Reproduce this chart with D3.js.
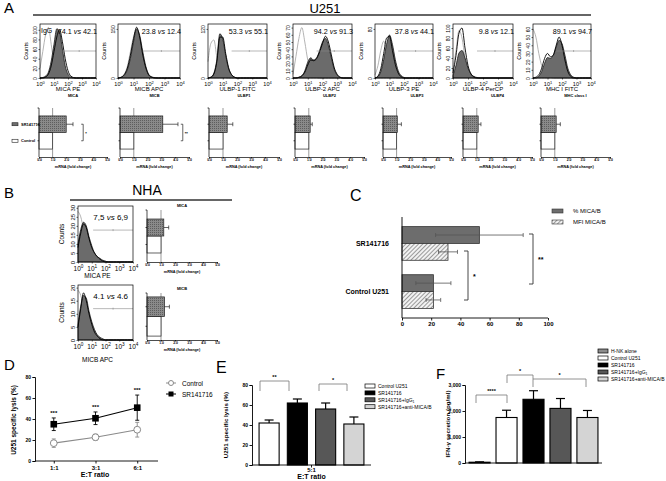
<!DOCTYPE html>
<html><head><meta charset="utf-8">
<script src="https://cdn.jsdelivr.net/npm/d3@7"></script>
<style>
body{margin:0;background:#fff;}
svg{display:block;}
</style></head><body>
<script>
// ================= DATA =================
const logBins = [0,0.2,0.4,0.6,0.8,1,1.2,1.4,1.6,1.8,2,2.2,2.4,2.6,2.8,3,3.2,3.4,3.6,3.8,4];
const histTicks = [0,1,2,3,4];

// Panel A flow cytometry histograms (counts at logBins)
const histMarkers = ["MICA PE","MICB APC","ULBP-1 FITC","ULBP-2 APC","ULBP-3 PE","ULBP-4 PerCP","MHC I FITC"];
const histPctTreat = ["74.1","23.8","53.3","94.2","37.8","9.8","89.1"];
const histPctCtrl  = ["42.1","12.4","55.1","91.3","44.1","12.1","94.7"];
const histYMax = [112,165,132,75,88,108,66];
const histYTicks = [[0,20,40,60,80,100],[0,150],[0,120],[0,10,20,30,40,50,60,70],[0,80],[0,20,40,60,80,100],[0,10,20,30,40,50,60]];
const histIso = [
  [20,55,90,105,70,30,10,3,0,0,0,0,0,0,0,0,0,0,0,0,0],
  [0,3,12,35,80,125,145,110,60,25,8,2,0,0,0,0,0,0,0,0,0],
  [40,85,93,50,15,4,1,0,0,0,0,0,0,0,0,0,0,0,0,0,0],
  [5,30,55,70,50,25,10,3,1,0,0,0,0,0,0,0,0,0,0,0,0],
  [5,20,45,60,45,20,6,1,0,0,0,0,0,0,0,0,0,0,0,0,0],
  [15,55,95,80,40,12,3,0,0,0,0,0,0,0,0,0,0,0,0,0,0],
  [60,50,30,15,8,4,2,0,0,0,0,0,0,0,0,0,0,0,0,0,0]
];
const histCtrl = [
  [0,0,2,8,25,55,85,100,75,40,15,4,1,0,0,0,0,0,0,0,0],
  [0,2,10,30,70,120,155,125,70,30,8,2,0,0,0,0,0,0,0,0,0],
  [0,2,10,40,100,100,60,25,8,2,0,0,0,0,0,0,0,0,0,0,0],
  [0,0,1,3,8,18,25,24,27,36,48,58,50,32,14,5,1,0,0,0,0],
  [0,3,15,40,65,68,45,22,8,2,0,0,0,0,0,0,0,0,0,0,0],
  [10,45,90,100,60,25,8,2,0,0,0,0,0,0,0,0,0,0,0,0,0],
  [0,1,4,12,24,30,26,28,40,50,40,22,8,2,0,0,0,0,0,0,0]
];
const histTreat = [
  [0,1,4,12,35,70,102,95,60,25,8,2,0,0,0,0,0,0,0,0,0],
  [0,2,8,25,60,110,150,130,80,35,10,3,1,0,0,0,0,0,0,0,0],
  [0,2,12,45,108,95,55,22,8,2,0,0,0,0,0,0,0,0,0,0,0],
  [0,0,1,3,10,22,28,25,28,38,50,55,45,28,12,4,1,0,0,0,0],
  [0,2,10,30,55,70,55,30,12,4,1,0,0,0,0,0,0,0,0,0,0],
  [5,25,50,55,40,20,8,3,1,0,0,0,0,0,0,0,0,0,0,0,0],
  [0,0,2,8,18,25,24,28,38,46,42,28,12,4,1,0,0,0,0,0,0]
];

// Panel A mRNA fold change
const barKeys = ["SR141716","Control"];
const mrnaGenes = ["MICA","MICB","ULBP1","ULBP2","ULBP3","ULBP4","MHC class I"];
const mrnaTreat = [2.0,3.1,1.3,1.1,1.05,1.1,1.1];
const mrnaTreatErr = [0.5,1.1,0.4,0.15,0.3,0.2,0.3];
const mrnaCtrl = [1,1,1,1,1,1,1];
const mrnaSig = ["*","**","","","","",""];
const mrnaTicks = [0,1,2,3,4,5];

// Panel B (NHA)
const nhaMarkers = ["MICA PE","MICB APC"];
const nhaGenes = ["MICA","MICB"];
const nhaPctTreat = ["7,5","4.1"];
const nhaPctCtrl = ["6,9","4.6"];
const nhaYMax = [31,21];
const nhaYTicks = [[0,5,10,15,20,25,30],[0,5,10,15,20]];
const nhaIso = [
  [28,25,18,10,5,2,1,0,0,0,0,0,0,0,0,0,0,0,0,0,0],
  [19,17,12,7,3,1,0,0,0,0,0,0,0,0,0,0,0,0,0,0,0]
];
const nhaCtrl = [
  [8,16,21,19,13,8,5,3,1.5,0.5,0,0,0,0,0,0,0,0,0,0,0],
  [5,12,18,15,10,6,3,1.5,0.5,0,0,0,0,0,0,0,0,0,0,0,0]
];
const nhaTreat = [
  [10,18,22,20,14,9,5,3,2,1,0.5,0,0,0,0,0,0,0,0,0,0],
  [6,13,17,16,11,7,4,2,1,0.5,0,0,0,0,0,0,0,0,0,0,0]
];
const nhaMrnaTreat = [1.2,1.25];
const nhaMrnaErr = [0.35,0.35];
const nhaMrnaCtrl = [1,1];

// Panel C
const cGroups = ["SR141716","Control U251"];
const cSeries = ["% MICA/B","MFI MICA/B"];
const cPct = [53,21.5];
const cPctErr = [30,12];
const cMfi = [31.5,21.5];
const cMfiErr = [6.5,5];
const cTicks = [0,20,40,60,80,100];

// Panel D
const dRatios = ["1:1","3:1","6:1"];
const dSeries = ["Control","SR141716"];
const dControl = [17,22.6,29.8];
const dControlErr = [4,3,7];
const dSR = [35,40.7,50.8];
const dSRErr = [6,6,12];
const dSig = ["***","***","***"];
const dTicks = [0,20,40,60,80];

// Panel E
const eGroups = ["Control U251","SR141716","SR141716+IgG1","SR141716+anti-MICA/B"];
const eValues = [42,62,56,41];
const eErr = [3,4,6,7];
const eTicks = [0,20,40,60,80];

// Panel F
const fGroups = ["H-NK alone","Control U251","SR141716","SR141716+IgG1","SR141716+anti-MICA/B"];
const fValues = [30,1750,2450,2100,1750];
const fErr = [15,280,330,380,270];
const fTicks = [0,1000,2000,3000];

// ================= STYLE / LAYOUT =================
const FONT = "'Liberation Sans', Arial, sans-serif";
const groupFill = {
  "H-NK alone":"#8c8c8c","Control U251":"#ffffff","SR141716":"#000000",
  "SR141716+IgG1":"#575757","SR141716+anti-MICA/B":"#d4d4d4"
};

const svg = d3.select("body").append("svg").attr("width",666).attr("height",481)
  .attr("font-family",FONT);
svg.append("rect").attr("width",666).attr("height",481).attr("fill","#fff");

const defs = svg.append("defs");
const hp = defs.append("pattern").attr("id","hatch").attr("patternUnits","userSpaceOnUse")
  .attr("width",3).attr("height",3).attr("patternTransform","rotate(45)");
hp.append("rect").attr("width",3).attr("height",3).attr("fill","#f2f2f2");
hp.append("line").attr("x1",0).attr("y1",0).attr("x2",0).attr("y2",3).attr("stroke","#6a6a6a").attr("stroke-width",1.3);
const dp = defs.append("pattern").attr("id","dots").attr("patternUnits","userSpaceOnUse")
  .attr("width",2).attr("height",2);
dp.append("rect").attr("width",2).attr("height",2).attr("fill","#8a8a8a");
dp.append("rect").attr("width",1).attr("height",1).attr("fill","#5e5e5e");

function T(g,x,y,s,size,o={}){
  const t=g.append("text").attr("x",x).attr("y",y).attr("font-size",size).attr("fill",o.fill||"#000")
    .attr("text-anchor",o.anchor||"start").attr("font-weight",o.weight||"normal");
  if(o.rot){t.attr("transform",`rotate(-90,${x},${y})`);}
  if(o.style) t.attr("font-style",o.style);
  t.text(s);
  return t;
}
function subLabel(t, s){
  if(s.endsWith("IgG1")){
    t.text(null);
    t.append("tspan").text(s.slice(0,-1));
    t.append("tspan").attr("font-size","0.7em").attr("dy","0.3em").text("1");
  }
}

// ---------- histogram ----------
function histo(L, d){
  const g=svg.append("g");
  const x=d3.scaleLinear().domain([0,4]).range([L.x0,L.x1]);
  const y=d3.scaleLinear().domain([0,d.ymax]).range([L.y1,L.y0]);
  const cl=v=>y(Math.min(v,d.ymax));
  const area=d3.area().x((v,i)=>x(logBins[i])).y0(L.y1).y1(cl).curve(d3.curveMonotoneX);
  const line=d3.line().x((v,i)=>x(logBins[i])).y(cl).curve(d3.curveMonotoneX);
  g.append("path").attr("d",line(d.iso)).attr("fill","none").attr("stroke","#aaaaaa").attr("stroke-width",0.9);
  g.append("path").attr("d",area(d.treat)).attr("fill","#6b6b6b").attr("stroke","#1a1a1a").attr("stroke-width",0.8);
  g.append("path").attr("d",line(d.ctrl)).attr("fill","none").attr("stroke","#000").attr("stroke-width",0.9);
  const gy=y(d.ymax*L.gate);
  g.append("line").attr("x1",x(L.gs)).attr("x2",x(4)).attr("y1",gy).attr("y2",gy).attr("stroke","#888").attr("stroke-width",0.6);
  g.append("line").attr("x1",x((L.gs+4)/2)).attr("x2",x((L.gs+4)/2)).attr("y1",gy-1).attr("y2",gy+1).attr("stroke","#888").attr("stroke-width",0.6);
  g.append("rect").attr("x",L.x0).attr("y",L.y0).attr("width",L.x1-L.x0).attr("height",L.y1-L.y0)
    .attr("fill","none").attr("stroke","#000").attr("stroke-width",0.7);
  const gx=g.append("g").attr("transform",`translate(0,${L.y1})`)
    .call(d3.axisBottom(x).tickValues(histTicks).tickSize(1.5).tickFormat(""));
  gx.select(".domain").remove();
  gx.selectAll(".tick line").attr("stroke-width",0.6);
  gx.selectAll(".tick").each(function(k){
    const t=d3.select(this).append("text").attr("y",L.tdy).attr("fill","#000")
      .attr("text-anchor","middle").attr("font-size",L.fs).attr("font-family",FONT);
    t.append("tspan").text("10");
    t.append("tspan").attr("dy",-L.fs*0.45).attr("font-size",L.fs*0.72).text(k);
  });
  const ga=g.append("g").attr("transform",`translate(${L.x0},0)`)
    .call(d3.axisLeft(y).tickValues(d.yticks).tickSize(1.5).tickPadding(1));
  ga.select(".domain").remove();
  ga.attr("font-size",L.fs*0.9).attr("font-family",FONT);
  ga.selectAll(".tick line").attr("stroke-width",0.6);
  ga.selectAll("text").attr("transform","rotate(-90)").attr("x",0).attr("y",-3).attr("dy",0).attr("text-anchor","middle");
  T(g,L.x0-L.fs*2.1,(L.y0+L.y1)/2,"Counts",L.fs,{anchor:"middle",rot:true});
  const pt=g.append("text").attr("x",L.x1+L.pdx).attr("y",L.y0+L.pdy).attr("font-size",L.pfs)
    .attr("text-anchor","end").attr("fill","#000");
  pt.append("tspan").text(d.pa+" ");
  pt.append("tspan").attr("font-style","italic").text("vs");
  pt.append("tspan").text(" "+d.pb);
  T(g,(L.x0+L.x1)/2+L.mdx,L.my,d.marker,L.mfs,{anchor:"middle"});
}

// ---------- mRNA bar ----------
function mrna(L, title, tv, te, cv, sig, brx, legend){
  const g=svg.append("g");
  const x=d3.scaleLinear().domain([0,5]).range([L.x0,L.x1]);
  const y=d3.scaleBand().domain(barKeys).range([L.y0,L.y1]).paddingInner(0).paddingOuter(L.po);
  const bw=y.bandwidth();
  g.append("line").attr("x1",x(1)).attr("x2",x(1)).attr("y1",L.y0).attr("y2",L.y1).attr("stroke","#555").attr("stroke-width",0.6);
  g.append("rect").attr("x",x(0)).attr("y",y(barKeys[1])).attr("width",x(cv)-x(0)).attr("height",bw)
    .attr("fill","#fff").attr("stroke","#222").attr("stroke-width",0.7);
  g.append("rect").attr("x",x(0)).attr("y",y(barKeys[0])).attr("width",x(tv)-x(0)).attr("height",bw)
    .attr("fill","url(#dots)").attr("stroke","#222").attr("stroke-width",0.7);
  const cy=y(barKeys[0])+bw/2;
  g.append("line").attr("x1",x(tv)).attr("x2",x(tv+te)).attr("y1",cy).attr("y2",cy).attr("stroke","#222").attr("stroke-width",0.7);
  g.append("line").attr("x1",x(tv+te)).attr("x2",x(tv+te)).attr("y1",cy-2).attr("y2",cy+2).attr("stroke","#222").attr("stroke-width",0.7);
  const gx=g.append("g").attr("transform",`translate(0,${L.y1})`)
    .call(d3.axisBottom(x).tickValues(mrnaTicks).tickSize(1.5).tickPadding(0.5));
  gx.attr("font-size",3.4).attr("font-family",FONT).attr("font-weight","bold");
  gx.selectAll("path,line").attr("stroke-width",0.7);
  const gl=g.append("g").attr("transform",`translate(${L.x0},0)`)
    .call(d3.axisLeft(y).tickSize(1.5).tickFormat(""));
  gl.select(".domain").attr("d",`M-1.5,${L.y0}H0V${L.y1}`);
  gl.selectAll("path,line").attr("stroke-width",0.7);
  T(g,(L.x0+L.x1)/2,L.y0-L.tdy,title,4,{anchor:"middle",weight:"bold"});
  T(g,(L.x0+L.x1)/2,L.y1+11,"mRNA (fold change)",3.8,{anchor:"middle",weight:"bold"});
  if(sig){
    const ya=cy, yb=y(barKeys[1])+bw/2, bx=x(brx);
    g.append("path").attr("d",`M${bx-2},${ya}H${bx}V${yb}H${bx-2}`).attr("fill","none").attr("stroke","#222").attr("stroke-width",0.7);
    T(g,bx+2,(ya+yb)/2+2,sig,4,{weight:"bold"});
  }
  if(legend){
    barKeys.forEach((k,i)=>{
      const yy=y(k)+bw/2;
      g.append("rect").attr("x",12).attr("y",yy-1.5).attr("width",6).attr("height",3)
        .attr("fill",i===0?"#6f6f6f":"#fff").attr("stroke","#222").attr("stroke-width",0.6);
      T(g,21,yy+1.5,k,4,{weight:"bold"});
    });
  }
}

// ================= PANEL A =================
T(svg,4,13,"A",15);
T(svg,325,13,"U251",13,{anchor:"middle"});
svg.append("line").attr("x1",33).attr("x2",591).attr("y1",15).attr("y2",15).attr("stroke","#333").attr("stroke-width",1.3);

const histBoxX=[[40,96],[118,180],[208,267],[293,352],[375,433],[453,513],[533,591]];
histMarkers.forEach((m,i)=>{
  histo({x0:histBoxX[i][0],x1:histBoxX[i][1],y0:24,y1:78,gate:0.5,gs:1.6,fs:5.5,tdy:8,pfs:7.2,pdx:1,pdy:10,mfs:6,mdx:0,my:91},
    {iso:histIso[i],ctrl:histCtrl[i],treat:histTreat[i],ymax:histYMax[i],yticks:histYTicks[i],
     pa:histPctTreat[i],pb:histPctCtrl[i],marker:m});
});
T(svg,41,33,"IgG",7);

const mrnaBoxX=[[39,107],[120,189],[209,279],[295,364],[383,451],[463,532],[541,610]];
const mrnaBracket=[3.25,4.55];
mrnaGenes.forEach((gname,i)=>{
  mrna({x0:mrnaBoxX[i][0],x1:mrnaBoxX[i][1],y0:108,y1:157,po:0.48,tdy:11},
    gname,mrnaTreat[i],mrnaTreatErr[i],mrnaCtrl[i],mrnaSig[i],mrnaBracket[i],i===0);
});

// ================= PANEL B =================
T(svg,4,198,"B",15);
T(svg,147,195,"NHA",14,{anchor:"middle"});
svg.append("line").attr("x1",70).attr("x2",232).attr("y1",200).attr("y2",200).attr("stroke","#333").attr("stroke-width",1.3);
const nhaBoxY=[[206,262],[285,340]];
const nhaMarkerY=[278,362];
const nhaBarY=[[210,262],[293,340]];
const nhaPo=[0.53,0.2];
nhaMarkers.forEach((m,i)=>{
  histo({x0:78,x1:133,y0:nhaBoxY[i][0],y1:nhaBoxY[i][1],gate:0.57,gs:1.1,fs:6.5,tdy:8.5,pfs:8,pdx:-5,pdy:14,mfs:6.5,mdx:-8,my:nhaMarkerY[i]},
    {iso:nhaIso[i],ctrl:nhaCtrl[i],treat:nhaTreat[i],ymax:nhaYMax[i],yticks:nhaYTicks[i],
     pa:nhaPctTreat[i],pb:nhaPctCtrl[i],marker:m});
  mrna({x0:147,x1:217,y0:nhaBarY[i][0],y1:nhaBarY[i][1],po:nhaPo[i],tdy:3},
    nhaGenes[i],nhaMrnaTreat[i],nhaMrnaErr[i],nhaMrnaCtrl[i],"",0,false);
});

// ================= PANEL C =================
(function(){
  const g=svg.append("g");
  T(g,350,201,"C",16);
  const x=d3.scaleLinear().domain([0,100]).range([402,548]);
  const y=d3.scaleBand().domain(cGroups).range([217,318]).paddingInner(0.3).paddingOuter(0.2);
  const ys=d3.scaleBand().domain(cSeries).range([0,y.bandwidth()]);
  const vals=[cPct,cMfi], errs=[cPctErr,cMfiErr], fills=["#6d6d6d","url(#hatch)"];
  cGroups.forEach((grp,gi)=>{
    cSeries.forEach((s,si)=>{
      const yy=y(grp)+ys(s), v=vals[si][gi], e=errs[si][gi], cy=yy+ys.bandwidth()/2;
      g.append("rect").attr("x",x(0)).attr("y",yy).attr("width",x(v)-x(0)).attr("height",ys.bandwidth())
        .attr("fill",fills[si]).attr("stroke","#333").attr("stroke-width",0.8);
      g.append("line").attr("x1",x(v-e)).attr("x2",x(v+e)).attr("y1",cy).attr("y2",cy).attr("stroke","#555").attr("stroke-width",0.8);
      [v-e,v+e].forEach(q=>g.append("line").attr("x1",x(q)).attr("x2",x(q)).attr("y1",cy-2).attr("y2",cy+2).attr("stroke","#555").attr("stroke-width",0.8));
    });
  });
  const gx=g.append("g").attr("transform","translate(0,318)").call(d3.axisBottom(x).tickValues(cTicks).tickSize(2.5).tickPadding(1.5));
  gx.attr("font-size",6).attr("font-family",FONT).attr("font-weight","bold");
  gx.select(".domain").attr("d","M402,0H548");
  gx.selectAll("path,line").attr("stroke-width",0.9);
  const gl=g.append("g").attr("transform","translate(402,0)").call(d3.axisLeft(y).tickSize(0).tickPadding(13));
  gl.attr("font-size",7).attr("font-family",FONT).attr("font-weight","bold");
  gl.select(".domain").attr("d","M0,217V318").attr("stroke-width",0.9);
  const br=[[468,251,300,"*"],[533,234,284,"**"]];
  br.forEach(b=>{
    g.append("path").attr("d",`M${b[0]-4},${b[1]}H${b[0]}V${b[2]}H${b[0]-4}`).attr("fill","none").attr("stroke","#333").attr("stroke-width",0.9);
    T(g,b[0]+5,(b[1]+b[2])/2+3,b[3],7,{weight:"bold"});
  });
  cSeries.forEach((s,i)=>{
    const yy=211+i*11;
    g.append("rect").attr("x",552).attr("y",yy-2).attr("width",11).attr("height",4)
      .attr("fill",fills[i]).attr("stroke","#333").attr("stroke-width",0.6);
    T(g,573,yy+2.2,s,6);
  });
})();

// ================= PANEL D =================
(function(){
  const g=svg.append("g");
  T(g,4,370,"D",15);
  const x=d3.scalePoint().domain(dRatios).range([35,156]).padding(0.45);
  const y=d3.scaleLinear().domain([0,80]).range([461,377]);
  const gy=g.append("g").attr("transform","translate(35,0)").call(d3.axisLeft(y).tickValues(dTicks).tickSize(2.5).tickPadding(1.5));
  gy.attr("font-size",5).attr("font-family",FONT).attr("font-weight","bold");
  gy.selectAll("path,line").attr("stroke-width",0.9);
  const gx=g.append("g").attr("transform","translate(0,461)").call(d3.axisBottom(x).tickSize(2.5).tickPadding(2));
  gx.attr("font-size",6).attr("font-family",FONT).attr("font-weight","bold");
  gx.select(".domain").attr("d","M35,0H158");
  gx.selectAll("path,line").attr("stroke-width",0.9);
  T(g,95,477,"E:T ratio",7,{anchor:"middle",weight:"bold"});
  T(g,16,420,"U251 specific lysis (%)",6.5,{anchor:"middle",weight:"bold",rot:true});
  const series=[[dControl,dControlErr,"#8a8a8a"],[dSR,dSRErr,"#000"]];
  series.forEach((s,si)=>{
    const [v,e,c]=s;
    g.append("path").attr("d",d3.line().x((d,i)=>x(dRatios[i])).y(d=>y(d))(v)).attr("fill","none").attr("stroke",c).attr("stroke-width",1.1);
    v.forEach((d,i)=>{
      const xx=x(dRatios[i]);
      g.append("line").attr("x1",xx).attr("x2",xx).attr("y1",y(d-e[i])).attr("y2",y(d+e[i])).attr("stroke",c).attr("stroke-width",0.9);
      [d-e[i],d+e[i]].forEach(q=>g.append("line").attr("x1",xx-2).attr("x2",xx+2).attr("y1",y(q)).attr("y2",y(q)).attr("stroke",c).attr("stroke-width",0.9));
      if(si===0){
        g.append("circle").attr("cx",xx).attr("cy",y(d)).attr("r",3.4).attr("fill","#fff").attr("stroke",c).attr("stroke-width",1);
      } else {
        g.append("rect").attr("x",xx-3.3).attr("y",y(d)-3.3).attr("width",6.6).attr("height",6.6).attr("fill","#000");
        T(g,xx,y(d+e[i])-3,dSig[i],6,{anchor:"middle",weight:"bold"});
      }
    });
  });
  dSeries.forEach((s,i)=>{
    const yy=383+i*11, c=i===0?"#8a8a8a":"#000";
    g.append("line").attr("x1",166).attr("x2",176).attr("y1",yy).attr("y2",yy).attr("stroke",c).attr("stroke-width",1);
    if(i===0) g.append("circle").attr("cx",171).attr("cy",yy).attr("r",2.5).attr("fill","#fff").attr("stroke",c);
    else g.append("rect").attr("x",168.5).attr("y",yy-2.5).attr("width",5).attr("height",5).attr("fill","#000");
    T(g,182,yy+2.5,s,6.5);
  });
})();

// ================= bar panels E / F =================
function barPanel(o){
  const g=svg.append("g");
  const x=d3.scaleBand().domain(o.groups).range(o.xr).paddingInner(o.pi).paddingOuter(o.po);
  const y=d3.scaleLinear().domain(o.ydom).range([o.y0,o.y1]);
  o.groups.forEach((grp,i)=>{
    const v=o.values[i], e=o.err[i], cx=x(grp)+x.bandwidth()/2;
    g.append("line").attr("x1",cx).attr("x2",cx).attr("y1",y(v)).attr("y2",y(v+e)).attr("stroke","#000").attr("stroke-width",1.2);
    g.append("line").attr("x1",cx-4.5).attr("x2",cx+4.5).attr("y1",y(v+e)).attr("y2",y(v+e)).attr("stroke","#000").attr("stroke-width",1.2);
    g.append("rect").attr("x",x(grp)).attr("y",y(v)).attr("width",x.bandwidth()).attr("height",y(0)-y(v))
      .attr("fill",groupFill[grp]).attr("stroke","#000").attr("stroke-width",1.1);
  });
  const gy=g.append("g").attr("transform",`translate(${o.xr[0]},0)`).call(d3.axisLeft(y).tickValues(o.ticks).tickSize(2.5).tickPadding(1.5));
  gy.attr("font-size",5).attr("font-family",FONT).attr("font-weight","bold");
  gy.selectAll("path,line").attr("stroke-width",0.9);
  g.append("line").attr("x1",o.xr[0]).attr("x2",o.xr[1]).attr("y1",y(0)).attr("y2",y(0)).attr("stroke","#000").attr("stroke-width",0.9);
  o.brackets.forEach(b=>{
    g.append("path").attr("d",`M${b.x1},${b.l1}V${b.top}H${b.x2}V${b.l2}`).attr("fill","none").attr("stroke","#777").attr("stroke-width",0.8);
    T(g,(b.x1+b.x2)/2,b.top-2,b.s,5.5,{anchor:"middle",weight:"bold"});
  });
  o.groups.forEach((grp,i)=>{
    const yy=o.legY+i*o.legStep;
    g.append("rect").attr("x",o.legX).attr("y",yy-2).attr("width",10).attr("height",4)
      .attr("fill",groupFill[grp]).attr("stroke","#000").attr("stroke-width",0.7);
    const t=T(g,o.legX+13,yy+2,grp,5);
    subLabel(t,grp);
  });
  T(g,o.ylx,(o.y0+o.y1)/2,o.ylabel,6.2,{anchor:"middle",weight:"bold",rot:true});
  return {g,x,y};
}

// Panel E
(function(){
  T(svg,216,373,"E",16);
  const r=barPanel({groups:eGroups,values:eValues,err:eErr,xr:[252,371],pi:0.29,po:0.25,ydom:[0,80],y0:465,y1:385,ticks:eTicks,
    brackets:[{x1:260,x2:289,top:381,l1:391,l2:391,s:"**"},{x1:319,x2:347,top:384,l1:391,l2:391,s:"*"}],
    legX:365,legY:386,legStep:6.9,ylx:228,ylabel:"U251 specific lysis (%)"});
  r.g.append("line").attr("x1",311.5).attr("x2",311.5).attr("y1",465).attr("y2",467.5).attr("stroke","#000").attr("stroke-width",0.9);
  T(r.g,311.5,472,"5:1",6,{anchor:"middle",weight:"bold"});
  T(r.g,311.5,479,"E:T ratio",7,{anchor:"middle",weight:"bold"});
})();

// Panel F
(function(){
  T(svg,436,379,"F",15);
  barPanel({groups:fGroups,values:fValues,err:fErr,xr:[465,602],pi:0.22,po:0.15,ydom:[0,3000],y0:463,y1:385,ticks:fTicks,
    brackets:[{x1:476,x2:507,top:395,l1:403,l2:403,s:"****"},{x1:507,x2:533,top:375,l1:383,l2:387,s:"*"},{x1:533,x2:586,top:379,l1:379,l2:387,s:"*"}],
    legX:598,legY:351,legStep:7,ylx:450,ylabel:"IFN-\u03b3 secretion (pg/ml)"});
})();
</script>
</body></html>
